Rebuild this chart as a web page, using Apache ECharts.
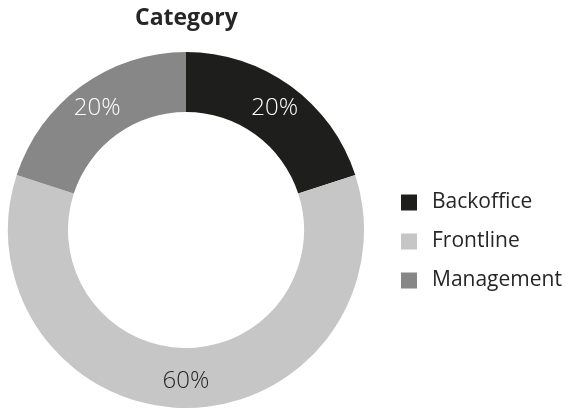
<!DOCTYPE html>
<html>
<head>
<meta charset="utf-8">
<script src="https://cdn.jsdelivr.net/npm/echarts@6/dist/echarts.min.js"></script>
<style>html,body{margin:0;padding:0;background:#fff}#c{width:568px;height:408px}</style>
</head>
<body>
<div id="c"></div>
<script>
const categories = ['Backoffice', 'Frontline', 'Management'];
const values = [20, 60, 20];
const colors = ['#1e1e1c', '#c6c6c6', '#878787'];
const labelColors = ['#ffffff', '#262626', '#ffffff'];

const chart = echarts.init(document.getElementById('c'), null, {renderer: 'canvas'});
chart.setOption({
  animation: false,
  title: {
    text: 'Category',
    left: 130,
    top: 2,
    textStyle: {fontFamily: 'Open Sans', fontWeight: 'bold', fontSize: 23, color: '#262626'}
  },
  legend: {
    orient: 'vertical',
    left: 396,
    top: 187,
    itemWidth: 16,
    itemHeight: 16,
    itemGap: 18,
    icon: 'rect',
    data: categories,
    textStyle: {fontFamily: 'Open Sans', fontSize: 21, color: '#262626', padding: [0, 0, 0, 10]}
  },
  series: [{
    type: 'pie',
    center: [186, 230],
    radius: [118, 178],
    startAngle: 90,
    clockwise: true,
    label: {
      position: 'inside',
      fontFamily: 'Open Sans',
      fontSize: 24,
      fontWeight: 300,
      formatter: p => p.value + '%'
    },
    labelLine: {show: false},
    itemStyle: {borderWidth: 0},
    data: categories.map((c, i) => ({
      name: c,
      value: values[i],
      itemStyle: {color: colors[i]},
      label: {color: labelColors[i]}
    }))
  }]
});
</script>
</body>
</html>
